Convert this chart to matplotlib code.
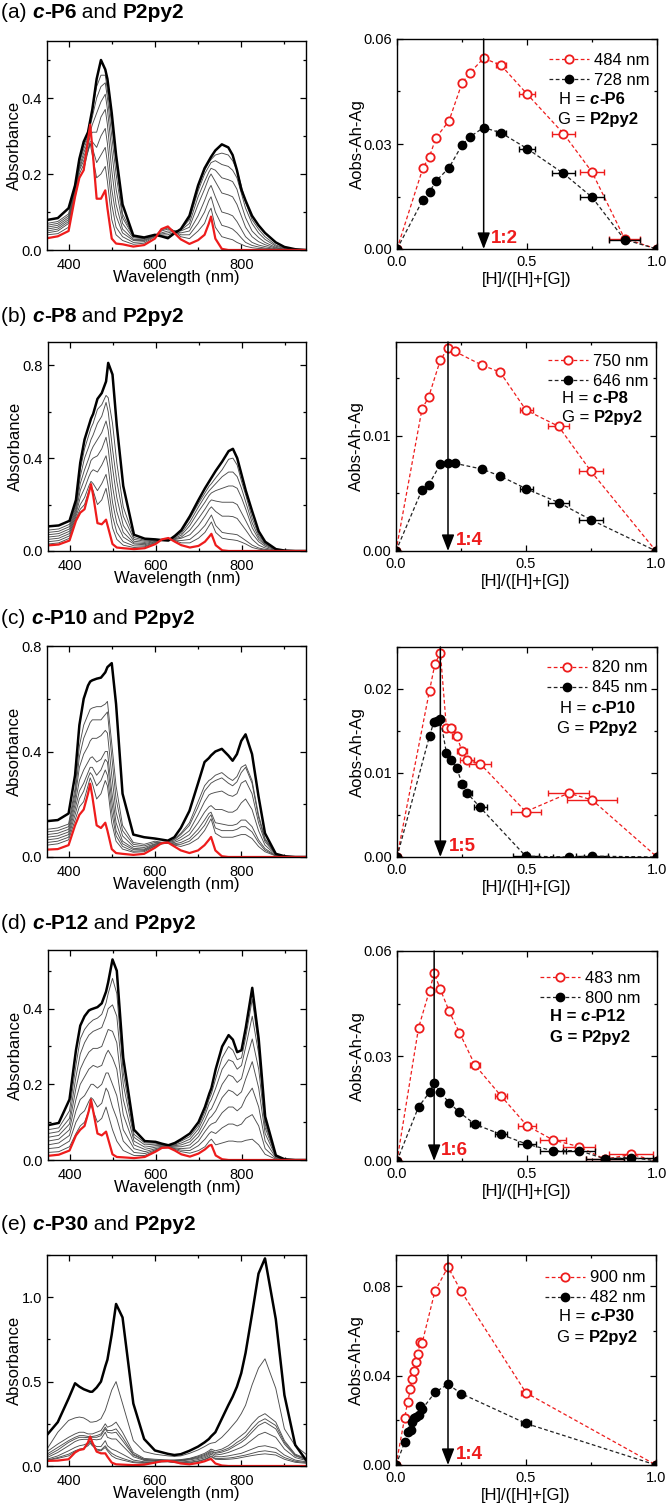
import numpy as np
import matplotlib.pyplot as plt
from matplotlib.ticker import MultipleLocator, FormatStrFormatter
import matplotlib.transforms as mtransforms

plt.rcParams['font.family'] = ['Liberation Sans', 'DejaVu Sans']
plt.rcParams['xtick.direction'] = 'in'
plt.rcParams['ytick.direction'] = 'in'
plt.rcParams['xtick.top'] = True
plt.rcParams['ytick.right'] = True
plt.rcParams['axes.linewidth'] = 1.0

#%% spectra: wavelength grid shared by all panels (nm)
wl = [350, 375, 400, 415, 425, 435, 445, 450, 455, 465,
      475, 485, 490, 500, 510, 525, 550, 575, 600, 615,
      630, 645, 660, 680, 700, 715, 725, 730, 740, 755,
      770, 780, 790, 800, 810, 825, 840, 855, 880, 900,
      925, 950]

# (a) c-P6 and P2py2
a_black = [0.079, 0.084, 0.11, 0.17, 0.24, 0.285, 0.31, 0.34, 0.37, 0.45,
           0.50, 0.475, 0.45, 0.36, 0.25, 0.12, 0.038, 0.033, 0.04, 0.036,
           0.031, 0.044, 0.055, 0.09, 0.17, 0.215, 0.235, 0.245, 0.262, 0.278,
           0.27, 0.25, 0.21, 0.16, 0.13, 0.09, 0.065, 0.045, 0.02, 0.008,
           0.002, 0.0]
a_red = [0.031, 0.036, 0.05, 0.14, 0.19, 0.21, 0.29, 0.33, 0.27, 0.135,
         0.135, 0.157, 0.11, 0.03, 0.017, 0.015, 0.009, 0.013, 0.03, 0.055,
         0.062, 0.045, 0.028, 0.016, 0.026, 0.04, 0.07, 0.088, 0.03, 0.003,
         0, 0, 0, 0, 0, 0, 0, 0, 0, 0,
         0, 0]
a_gray = [
    [0.040, 0.043, 0.06, 0.14, 0.19, 0.21, 0.26, 0.28, 0.25, 0.19,
     0.20, 0.22, 0.18, 0.08, 0.04, 0.025, 0.015, 0.018, 0.035, 0.055,
     0.06, 0.05, 0.035, 0.03, 0.05, 0.07, 0.10, 0.11, 0.06, 0.035,
     0.03, 0.027, 0.02, 0.015, 0.01, 0.006, 0.004, 0.003, 0.001, 0,
     0, 0],
    [0.045, 0.05, 0.07, 0.15, 0.20, 0.225, 0.26, 0.28, 0.27, 0.23,
     0.25, 0.27, 0.23, 0.12, 0.06, 0.035, 0.02, 0.022, 0.037, 0.053,
     0.058, 0.05, 0.04, 0.04, 0.07, 0.10, 0.13, 0.14, 0.10, 0.065,
     0.06, 0.055, 0.045, 0.032, 0.02, 0.012, 0.008, 0.005, 0.002, 0.001,
     0, 0],
    [0.05, 0.055, 0.075, 0.15, 0.21, 0.235, 0.265, 0.285, 0.285, 0.27,
     0.30, 0.32, 0.28, 0.16, 0.09, 0.045, 0.025, 0.025, 0.038, 0.05,
     0.055, 0.05, 0.045, 0.05, 0.09, 0.13, 0.16, 0.17, 0.14, 0.10,
     0.095, 0.09, 0.075, 0.055, 0.035, 0.02, 0.013, 0.009, 0.003, 0.001,
     0, 0],
    [0.055, 0.06, 0.08, 0.155, 0.215, 0.245, 0.275, 0.30, 0.31, 0.31,
     0.35, 0.37, 0.33, 0.21, 0.12, 0.055, 0.028, 0.027, 0.039, 0.045,
     0.05, 0.05, 0.05, 0.06, 0.12, 0.16, 0.19, 0.20, 0.18, 0.15,
     0.145, 0.14, 0.12, 0.09, 0.06, 0.035, 0.022, 0.014, 0.005, 0.002,
     0, 0],
    [0.06, 0.065, 0.085, 0.16, 0.22, 0.255, 0.285, 0.31, 0.33, 0.36,
     0.39, 0.41, 0.37, 0.26, 0.16, 0.07, 0.032, 0.03, 0.04, 0.042,
     0.045, 0.05, 0.052, 0.07, 0.14, 0.18, 0.205, 0.215, 0.21, 0.19,
     0.185, 0.18, 0.16, 0.12, 0.085, 0.05, 0.033, 0.02, 0.007, 0.002,
     0, 0],
    [0.065, 0.07, 0.09, 0.165, 0.23, 0.265, 0.295, 0.325, 0.35, 0.40,
     0.43, 0.44, 0.40, 0.30, 0.20, 0.085, 0.035, 0.031, 0.04, 0.039,
     0.04, 0.047, 0.053, 0.08, 0.155, 0.20, 0.22, 0.23, 0.235, 0.225,
     0.22, 0.21, 0.19, 0.15, 0.11, 0.07, 0.045, 0.028, 0.01, 0.004,
     0.001, 0],
    [0.07, 0.075, 0.095, 0.17, 0.235, 0.275, 0.30, 0.335, 0.365, 0.43,
     0.46, 0.46, 0.42, 0.33, 0.23, 0.095, 0.037, 0.032, 0.04, 0.037,
     0.035, 0.045, 0.054, 0.085, 0.165, 0.21, 0.23, 0.238, 0.25, 0.255,
     0.25, 0.235, 0.21, 0.17, 0.125, 0.08, 0.055, 0.035, 0.013, 0.005,
     0.001, 0],
]

# (b) c-P8 and P2py2
b_black = [0.106, 0.11, 0.13, 0.22, 0.38, 0.48, 0.54, 0.57, 0.59, 0.655,
           0.68, 0.73, 0.81, 0.76, 0.54, 0.28, 0.07, 0.053, 0.05, 0.047,
           0.045, 0.065, 0.09, 0.15, 0.22, 0.27, 0.30, 0.315, 0.345, 0.385,
           0.43, 0.44, 0.40, 0.33, 0.26, 0.17, 0.085, 0.04, 0.008, 0.002,
           0, 0]
b_red = [0.024, 0.028, 0.045, 0.13, 0.165, 0.18, 0.25, 0.288, 0.24, 0.12,
         0.115, 0.135, 0.10, 0.03, 0.015, 0.012, 0.008, 0.012, 0.03, 0.05,
         0.056, 0.04, 0.025, 0.015, 0.022, 0.04, 0.062, 0.074, 0.025, 0.003,
         0, 0, 0, 0, 0, 0, 0, 0, 0, 0,
         0, 0]
b_gray = [
    [0.03, 0.035, 0.055, 0.14, 0.18, 0.20, 0.26, 0.28, 0.26, 0.20,
     0.22, 0.27, 0.22, 0.10, 0.05, 0.025, 0.015, 0.018, 0.035, 0.05,
     0.055, 0.045, 0.035, 0.035, 0.055, 0.08, 0.11, 0.125, 0.08, 0.055,
     0.05, 0.048, 0.045, 0.038, 0.03, 0.015, 0.008, 0.004, 0.001, 0,
     0, 0],
    [0.04, 0.045, 0.065, 0.15, 0.20, 0.23, 0.28, 0.30, 0.29, 0.26,
     0.29, 0.33, 0.28, 0.15, 0.08, 0.04, 0.022, 0.022, 0.037, 0.05,
     0.053, 0.047, 0.045, 0.05, 0.08, 0.11, 0.14, 0.155, 0.11, 0.08,
     0.075, 0.073, 0.07, 0.058, 0.045, 0.025, 0.013, 0.007, 0.002, 0,
     0, 0],
    [0.05, 0.055, 0.075, 0.16, 0.23, 0.27, 0.32, 0.34, 0.35, 0.34,
     0.37, 0.41, 0.36, 0.21, 0.12, 0.06, 0.03, 0.027, 0.04, 0.05,
     0.052, 0.05, 0.055, 0.07, 0.11, 0.15, 0.18, 0.19, 0.17, 0.15,
     0.15, 0.148, 0.14, 0.115, 0.09, 0.05, 0.025, 0.013, 0.003, 0.001,
     0, 0],
    [0.06, 0.065, 0.085, 0.17, 0.26, 0.31, 0.36, 0.39, 0.40, 0.41,
     0.44, 0.49, 0.44, 0.28, 0.17, 0.08, 0.035, 0.032, 0.042, 0.048,
     0.05, 0.053, 0.06, 0.09, 0.14, 0.18, 0.21, 0.22, 0.215, 0.21,
     0.21, 0.21, 0.20, 0.165, 0.13, 0.075, 0.04, 0.02, 0.005, 0.001,
     0, 0],
    [0.07, 0.075, 0.095, 0.18, 0.29, 0.35, 0.40, 0.43, 0.45, 0.48,
     0.51, 0.56, 0.52, 0.36, 0.23, 0.11, 0.042, 0.037, 0.045, 0.046,
     0.048, 0.056, 0.068, 0.11, 0.17, 0.21, 0.24, 0.25, 0.26, 0.27,
     0.28, 0.28, 0.27, 0.23, 0.18, 0.10, 0.05, 0.026, 0.006, 0.002,
     0, 0],
    [0.08, 0.085, 0.105, 0.19, 0.32, 0.40, 0.45, 0.48, 0.50, 0.55,
     0.58, 0.64, 0.60, 0.44, 0.30, 0.15, 0.05, 0.042, 0.047, 0.045,
     0.046, 0.06, 0.076, 0.125, 0.19, 0.235, 0.26, 0.27, 0.29, 0.32,
     0.34, 0.34, 0.32, 0.27, 0.21, 0.12, 0.06, 0.03, 0.007, 0.002,
     0, 0],
    [0.09, 0.095, 0.115, 0.20, 0.35, 0.44, 0.50, 0.53, 0.55, 0.61,
     0.63, 0.67, 0.66, 0.55, 0.38, 0.19, 0.058, 0.046, 0.048, 0.046,
     0.045, 0.062, 0.083, 0.14, 0.205, 0.25, 0.28, 0.29, 0.315, 0.35,
     0.395, 0.40, 0.37, 0.30, 0.24, 0.14, 0.07, 0.034, 0.008, 0.002,
     0, 0],
]

# (c) c-P10 and P2py2
c_black = [0.136, 0.14, 0.165, 0.31, 0.50, 0.60, 0.65, 0.665, 0.67, 0.676,
           0.68, 0.70, 0.72, 0.735, 0.58, 0.24, 0.085, 0.075, 0.07, 0.066,
           0.062, 0.075, 0.11, 0.175, 0.28, 0.36, 0.375, 0.385, 0.40, 0.41,
           0.385, 0.365, 0.39, 0.44, 0.465, 0.39, 0.23, 0.09, 0.012, 0.003,
           0, 0]
c_red = [0.028, 0.03, 0.045, 0.12, 0.16, 0.18, 0.24, 0.278, 0.23, 0.12,
         0.11, 0.13, 0.10, 0.03, 0.015, 0.012, 0.008, 0.012, 0.035, 0.052,
         0.055, 0.04, 0.025, 0.015, 0.025, 0.045, 0.065, 0.076, 0.025, 0.003,
         0, 0, 0, 0, 0, 0, 0, 0, 0, 0,
         0, 0]
c_gray = [
    [0.045, 0.05, 0.065, 0.14, 0.19, 0.21, 0.27, 0.30, 0.28, 0.22,
     0.24, 0.29, 0.27, 0.13, 0.06, 0.03, 0.018, 0.02, 0.04, 0.05,
     0.055, 0.045, 0.04, 0.05, 0.07, 0.10, 0.13, 0.145, 0.09, 0.075,
     0.075, 0.075, 0.08, 0.085, 0.085, 0.07, 0.04, 0.02, 0.004, 0.001,
     0, 0],
    [0.055, 0.06, 0.075, 0.16, 0.22, 0.25, 0.30, 0.32, 0.31, 0.27,
     0.29, 0.33, 0.31, 0.17, 0.08, 0.04, 0.022, 0.024, 0.042, 0.05,
     0.053, 0.048, 0.048, 0.06, 0.09, 0.12, 0.15, 0.16, 0.11, 0.10,
     0.10, 0.10, 0.105, 0.115, 0.115, 0.095, 0.055, 0.026, 0.005, 0.001,
     0, 0],
    [0.065, 0.07, 0.085, 0.18, 0.25, 0.28, 0.32, 0.34, 0.34, 0.31,
     0.33, 0.37, 0.36, 0.21, 0.10, 0.05, 0.028, 0.027, 0.045, 0.05,
     0.052, 0.05, 0.055, 0.07, 0.105, 0.14, 0.165, 0.17, 0.13, 0.125,
     0.12, 0.12, 0.125, 0.14, 0.14, 0.115, 0.065, 0.032, 0.006, 0.001,
     0, 0],
    [0.075, 0.08, 0.095, 0.20, 0.29, 0.33, 0.36, 0.375, 0.38, 0.36,
     0.37, 0.40, 0.40, 0.25, 0.13, 0.06, 0.033, 0.03, 0.048, 0.052,
     0.053, 0.055, 0.065, 0.085, 0.13, 0.17, 0.19, 0.195, 0.18, 0.18,
     0.17, 0.17, 0.18, 0.205, 0.22, 0.18, 0.10, 0.045, 0.008, 0.002,
     0, 0],
    [0.085, 0.09, 0.105, 0.22, 0.34, 0.39, 0.42, 0.44, 0.45, 0.45,
     0.46, 0.48, 0.47, 0.31, 0.17, 0.08, 0.04, 0.036, 0.05, 0.053,
     0.055, 0.06, 0.075, 0.10, 0.16, 0.21, 0.235, 0.24, 0.245, 0.25,
     0.235, 0.23, 0.24, 0.28, 0.29, 0.24, 0.13, 0.058, 0.01, 0.002,
     0, 0],
    [0.095, 0.10, 0.115, 0.24, 0.38, 0.45, 0.49, 0.51, 0.52, 0.52,
     0.52, 0.54, 0.55, 0.38, 0.22, 0.10, 0.048, 0.042, 0.055, 0.055,
     0.056, 0.065, 0.085, 0.12, 0.19, 0.25, 0.27, 0.28, 0.29, 0.30,
     0.28, 0.27, 0.285, 0.32, 0.34, 0.28, 0.15, 0.065, 0.012, 0.002,
     0, 0],
    [0.105, 0.11, 0.125, 0.26, 0.42, 0.50, 0.54, 0.56, 0.565, 0.57,
     0.57, 0.58, 0.59, 0.43, 0.27, 0.12, 0.055, 0.048, 0.06, 0.056,
     0.057, 0.068, 0.09, 0.13, 0.21, 0.27, 0.29, 0.295, 0.31, 0.32,
     0.30, 0.29, 0.305, 0.34, 0.35, 0.29, 0.16, 0.07, 0.013, 0.002,
     0, 0],
]

# (d) c-P12 and P2py2
d_black = [0.092, 0.098, 0.16, 0.29, 0.355, 0.38, 0.395, 0.398, 0.40, 0.404,
           0.414, 0.445, 0.47, 0.53, 0.50, 0.27, 0.08, 0.05, 0.048, 0.043,
           0.039, 0.045, 0.055, 0.07, 0.10, 0.14, 0.175, 0.19, 0.24, 0.30,
           0.33, 0.318, 0.285, 0.29, 0.35, 0.455, 0.32, 0.115, 0.012, 0.002,
           0, 0]
d_red = [0.011, 0.014, 0.025, 0.065, 0.08, 0.09, 0.13, 0.16, 0.13, 0.07,
         0.065, 0.075, 0.055, 0.015, 0.008, 0.007, 0.005, 0.008, 0.022, 0.032,
         0.033, 0.025, 0.015, 0.009, 0.017, 0.028, 0.038, 0.04, 0.012, 0.002,
         0, 0, 0, 0, 0, 0, 0, 0, 0, 0,
         0, 0]
d_gray = [
    [0.02, 0.022, 0.035, 0.07, 0.09, 0.10, 0.13, 0.145, 0.13, 0.10,
     0.11, 0.14, 0.12, 0.08, 0.05, 0.025, 0.012, 0.012, 0.025, 0.032,
     0.032, 0.028, 0.022, 0.018, 0.025, 0.035, 0.05, 0.055, 0.04, 0.045,
     0.05, 0.05, 0.048, 0.048, 0.052, 0.055, 0.04, 0.015, 0.002, 0,
     0, 0],
    [0.03, 0.033, 0.05, 0.10, 0.12, 0.13, 0.155, 0.165, 0.16, 0.14,
     0.15, 0.19, 0.18, 0.14, 0.11, 0.05, 0.02, 0.017, 0.027, 0.033,
     0.033, 0.03, 0.026, 0.025, 0.038, 0.055, 0.07, 0.075, 0.07, 0.085,
     0.095, 0.095, 0.09, 0.095, 0.11, 0.12, 0.09, 0.03, 0.004, 0,
     0, 0],
    [0.04, 0.045, 0.065, 0.13, 0.16, 0.17, 0.19, 0.20, 0.20, 0.19,
     0.20, 0.23, 0.23, 0.20, 0.17, 0.08, 0.03, 0.022, 0.03, 0.034,
     0.034, 0.032, 0.03, 0.032, 0.05, 0.075, 0.09, 0.095, 0.10, 0.125,
     0.14, 0.14, 0.13, 0.14, 0.165, 0.19, 0.14, 0.05, 0.006, 0,
     0, 0],
    [0.05, 0.055, 0.08, 0.16, 0.20, 0.22, 0.24, 0.245, 0.25, 0.245,
     0.25, 0.28, 0.29, 0.27, 0.24, 0.12, 0.04, 0.028, 0.034, 0.036,
     0.036, 0.035, 0.035, 0.04, 0.062, 0.09, 0.11, 0.115, 0.13, 0.165,
     0.185, 0.18, 0.17, 0.18, 0.215, 0.26, 0.19, 0.07, 0.008, 0,
     0, 0],
    [0.06, 0.065, 0.095, 0.19, 0.24, 0.265, 0.285, 0.29, 0.295, 0.295,
     0.30, 0.33, 0.345, 0.34, 0.31, 0.16, 0.05, 0.034, 0.038, 0.038,
     0.037, 0.038, 0.04, 0.048, 0.072, 0.105, 0.13, 0.135, 0.16, 0.20,
     0.225, 0.22, 0.205, 0.215, 0.26, 0.32, 0.24, 0.085, 0.01, 0.001,
     0, 0],
    [0.07, 0.075, 0.11, 0.22, 0.28, 0.31, 0.33, 0.335, 0.34, 0.345,
     0.35, 0.38, 0.40, 0.41, 0.38, 0.20, 0.06, 0.04, 0.042, 0.04,
     0.038, 0.04, 0.045, 0.055, 0.082, 0.118, 0.15, 0.16, 0.19, 0.24,
     0.265, 0.26, 0.24, 0.25, 0.30, 0.38, 0.28, 0.095, 0.011, 0.001,
     0, 0],
    [0.08, 0.085, 0.13, 0.25, 0.32, 0.345, 0.36, 0.365, 0.37, 0.375,
     0.385, 0.415, 0.44, 0.48, 0.44, 0.23, 0.068, 0.045, 0.045, 0.041,
     0.038, 0.042, 0.05, 0.062, 0.09, 0.128, 0.162, 0.175, 0.215, 0.27,
     0.30, 0.29, 0.265, 0.27, 0.325, 0.425, 0.30, 0.105, 0.012, 0.001,
     0, 0],
]

# (e) c-P30 and P2py2
e_black = [0.184, 0.26, 0.40, 0.49, 0.47, 0.455, 0.445, 0.44, 0.44, 0.465,
           0.50, 0.59, 0.63, 0.78, 0.96, 0.88, 0.37, 0.16, 0.092, 0.082,
           0.072, 0.065, 0.07, 0.09, 0.115, 0.14, 0.16, 0.175, 0.20, 0.28,
           0.36, 0.41, 0.47, 0.55, 0.67, 0.90, 1.14, 1.23, 0.87, 0.42,
           0.125, 0.035]
e_red = [0.03, 0.032, 0.04, 0.08, 0.095, 0.10, 0.14, 0.175, 0.14, 0.085,
         0.075, 0.075, 0.055, 0.02, 0.01, 0.008, 0.005, 0.008, 0.02, 0.028,
         0.03, 0.025, 0.015, 0.01, 0.018, 0.028, 0.038, 0.042, 0.015, 0.003,
         0, 0, 0, 0, 0, 0, 0, 0, 0, 0,
         0, 0]
e_gray = [
    [0.10, 0.20, 0.27, 0.285, 0.29, 0.285, 0.27, 0.26, 0.26, 0.265,
     0.28, 0.33, 0.37, 0.45, 0.50, 0.37, 0.15, 0.085, 0.07, 0.065,
     0.06, 0.057, 0.06, 0.075, 0.095, 0.115, 0.13, 0.135, 0.14, 0.17,
     0.21, 0.24, 0.27, 0.31, 0.36, 0.48, 0.58, 0.635, 0.46, 0.22,
     0.12, 0.07],
    [0.085, 0.13, 0.17, 0.19, 0.20, 0.20, 0.19, 0.19, 0.19, 0.20,
     0.21, 0.25, 0.23, 0.24, 0.26, 0.20, 0.08, 0.045, 0.04, 0.038,
     0.036, 0.036, 0.038, 0.045, 0.06, 0.075, 0.09, 0.10, 0.09, 0.10,
     0.12, 0.14, 0.16, 0.18, 0.20, 0.25, 0.29, 0.31, 0.26, 0.15,
     0.07, 0.045],
    [0.07, 0.11, 0.15, 0.17, 0.18, 0.18, 0.175, 0.175, 0.175, 0.18,
     0.19, 0.23, 0.21, 0.21, 0.22, 0.17, 0.07, 0.04, 0.035, 0.034,
     0.033, 0.033, 0.035, 0.042, 0.055, 0.068, 0.082, 0.09, 0.08, 0.09,
     0.105, 0.12, 0.14, 0.155, 0.175, 0.22, 0.26, 0.28, 0.24, 0.14,
     0.065, 0.04],
    [0.06, 0.095, 0.14, 0.16, 0.17, 0.17, 0.168, 0.17, 0.17, 0.17,
     0.18, 0.22, 0.20, 0.195, 0.20, 0.15, 0.065, 0.037, 0.033, 0.032,
     0.031, 0.031, 0.033, 0.04, 0.05, 0.062, 0.075, 0.085, 0.075, 0.082,
     0.095, 0.11, 0.125, 0.14, 0.16, 0.20, 0.24, 0.26, 0.22, 0.13,
     0.06, 0.038],
    [0.05, 0.08, 0.12, 0.145, 0.155, 0.158, 0.158, 0.16, 0.158, 0.155,
     0.16, 0.20, 0.17, 0.16, 0.16, 0.12, 0.055, 0.033, 0.03, 0.03,
     0.029, 0.029, 0.03, 0.036, 0.045, 0.055, 0.068, 0.078, 0.065, 0.07,
     0.08, 0.09, 0.10, 0.11, 0.125, 0.155, 0.185, 0.20, 0.17, 0.10,
     0.05, 0.033],
    [0.04, 0.06, 0.09, 0.11, 0.12, 0.125, 0.135, 0.145, 0.13, 0.115,
     0.115, 0.15, 0.12, 0.10, 0.09, 0.07, 0.035, 0.025, 0.025, 0.027,
     0.027, 0.025, 0.024, 0.028, 0.038, 0.048, 0.06, 0.07, 0.055, 0.055,
     0.06, 0.065, 0.07, 0.075, 0.085, 0.10, 0.115, 0.12, 0.105, 0.065,
     0.035, 0.025],
    [0.035, 0.05, 0.07, 0.09, 0.10, 0.105, 0.12, 0.135, 0.12, 0.10,
     0.095, 0.12, 0.10, 0.075, 0.06, 0.045, 0.025, 0.02, 0.022, 0.025,
     0.025, 0.022, 0.02, 0.022, 0.03, 0.04, 0.052, 0.06, 0.045, 0.045,
     0.047, 0.05, 0.055, 0.06, 0.065, 0.075, 0.085, 0.09, 0.08, 0.05,
     0.028, 0.02],
    [0.033, 0.045, 0.06, 0.085, 0.095, 0.10, 0.13, 0.15, 0.125, 0.095,
     0.09, 0.11, 0.09, 0.06, 0.045, 0.035, 0.02, 0.016, 0.02, 0.025,
     0.026, 0.02, 0.017, 0.018, 0.027, 0.037, 0.048, 0.055, 0.04, 0.038,
     0.04, 0.042, 0.045, 0.05, 0.055, 0.062, 0.068, 0.072, 0.065, 0.04,
     0.022, 0.016],
]

#%% Job plots: x = [H]/([H]+[G])
ja_x = [0, 0.1, 0.125, 0.15, 0.2, 0.25, 0.28, 0.333, 0.4, 0.5, 0.64, 0.75, 0.875, 1.0]
ja_red = [0, 0.0232, 0.0264, 0.0318, 0.0366, 0.0474, 0.0503, 0.0545, 0.0525, 0.0443, 0.033, 0.022, 0.003, 0]
ja_black = [0, 0.0141, 0.0163, 0.0194, 0.0232, 0.0297, 0.032, 0.0347, 0.0332, 0.0287, 0.0216, 0.0148, 0.0027, 0]
ja_err = [0, 0, 0, 0, 0, 0, 0.005, 0.01, 0.02, 0.029, 0.045, 0.046, 0.058, 0]

jb_x = [0, 0.1, 0.125, 0.17, 0.2, 0.225, 0.33, 0.4, 0.5, 0.625, 0.75, 1.0]
jb_red = [0, 0.0123, 0.0133, 0.0165, 0.0176, 0.0173, 0.0161, 0.0155, 0.0122, 0.0108, 0.0069, 0]
jb_black = [0, 0.0053, 0.0057, 0.0075, 0.0076, 0.0076, 0.0071, 0.0065, 0.0054, 0.0042, 0.0027, 0]
jb_err = [0, 0, 0, 0, 0, 0, 0.005, 0.013, 0.025, 0.039, 0.047, 0]

jc_xr = [0, 0.125, 0.146, 0.167, 0.19, 0.208, 0.23, 0.25, 0.27, 0.32, 0.495, 0.66, 0.75, 1.0]
jc_red = [0, 0.0198, 0.0230, 0.0243, 0.0154, 0.0154, 0.0144, 0.0126, 0.0115, 0.0111, 0.0054, 0.0076, 0.0068, 0]
jc_err_r = [0, 0, 0, 0.01, 0.01, 0.015, 0.018, 0.02, 0.026, 0.042, 0.058, 0.08, 0.097, 0]
jc_xb = [0, 0.125, 0.142, 0.155, 0.167, 0.19, 0.208, 0.23, 0.25, 0.27, 0.32, 0.495, 0.66, 0.75, 1.0]
jc_black = [0, 0.0144, 0.0161, 0.0162, 0.0164, 0.0124, 0.0115, 0.0106, 0.0087, 0.0076, 0.0059, 0.0001, 0, 0.0001, 0]
jc_err_b = [0, 0, 0, 0, 0.008, 0.008, 0.01, 0.012, 0.014, 0.018, 0.025, 0.05, 0.06, 0.06, 0]

jd_x = [0, 0.083, 0.125, 0.143, 0.167, 0.2, 0.24, 0.3, 0.4, 0.5, 0.6, 0.7, 0.8, 0.9, 1.0]
jd_red = [0, 0.0381, 0.0487, 0.0536, 0.049, 0.0429, 0.0367, 0.0274, 0.0186, 0.0101, 0.006, 0.0041, 0.0005, 0.0019, 0]
jd_black = [0, 0.0155, 0.0196, 0.0224, 0.0196, 0.0167, 0.0139, 0.0105, 0.0076, 0.0048, 0.0029, 0.003, 0.0006, 0.001, 0]
jd_err = [0, 0, 0, 0, 0, 0.005, 0.008, 0.021, 0.024, 0.035, 0.049, 0.063, 0.072, 0.085, 0]

je_xr = [0, 0.033, 0.045, 0.055, 0.062, 0.07, 0.077, 0.084, 0.093, 0.1, 0.15, 0.2, 0.25, 0.5, 1.0]
je_red = [0, 0.0209, 0.0283, 0.0338, 0.0384, 0.0422, 0.0462, 0.0499, 0.0551, 0.0544, 0.0779, 0.0886, 0.0779, 0.0323, 0]
je_xb = [0, 0.033, 0.048, 0.056, 0.062, 0.07, 0.078, 0.087, 0.093, 0.1, 0.15, 0.2, 0.25, 0.5, 1.0]
je_black = [0, 0.0101, 0.0149, 0.0156, 0.0194, 0.0209, 0.0216, 0.0226, 0.0264, 0.0249, 0.0325, 0.0362, 0.032, 0.0186, 0]
je_err = [0, 0, 0, 0, 0, 0, 0, 0, 0, 0, 0, 0, 0.005, 0.02, 0]

RED = '#ee1c1c'
W, H = 666, 1504
fig = plt.figure(figsize=(W / 100, H / 100), dpi=100)


def px_axes(x0, y0, x1, y1):
    return fig.add_axes([x0 / W, 1 - y1 / H, (x1 - x0) / W, (y1 - y0) / H])


def rich(ax, x, y, parts, size, transform):
    '''Draws text pieces with different weight/style one after the other'''
    s, w, st = parts[0]
    t = ax.text(x, y, s, transform=transform, fontsize=size, fontweight=w,
                fontstyle=st, va='center', ha='left')
    for s, w, st in parts[1:]:
        t = ax.annotate(s, xy=(1, 0), xycoords=t, va='bottom', ha='left',
                        fontsize=size, fontweight=w, fontstyle=st,
                        annotation_clip=False)
    return t


def style_axes(ax, xlim, ylim, xmaj, xmin, ymaj, ymin, xfmt, yfmt, xpad):
    ax.set_xlim(*xlim)
    ax.set_ylim(*ylim)
    ax.xaxis.set_major_locator(MultipleLocator(xmaj))
    ax.xaxis.set_minor_locator(MultipleLocator(xmin))
    ax.yaxis.set_major_locator(MultipleLocator(ymaj))
    ax.yaxis.set_minor_locator(MultipleLocator(ymin))
    ax.xaxis.set_major_formatter(FormatStrFormatter(xfmt))
    ax.yaxis.set_major_formatter(FormatStrFormatter(yfmt))
    ax.tick_params(which='both', direction='in', top=True, right=True,
                   labelsize=10.5, width=0.9)
    ax.tick_params(which='major', length=4)
    ax.tick_params(which='minor', length=2.5)
    ax.tick_params(axis='x', pad=xpad)


def plot_spectra(ax, black, red, grays, ymax, ymaj):
    for g in grays:
        ax.plot(wl, g, color='0.3', lw=0.65)
    ax.plot(wl, black, color='k', lw=1.8)
    ax.plot(wl, red, color=RED, lw=1.6)
    style_axes(ax, (350, 950), (0, ymax), 200, 100, ymaj, ymaj / 2, '%d', '%.1f', 6)
    ax.set_xlabel('Wavelength (nm)', fontsize=12, labelpad=-1.5)
    ax.set_ylabel('Absorbance', fontsize=12, labelpad=0)


def plot_job(ax, xr, yr, er, xb, yb, eb, ymax, ymaj, yfmt):
    dash = (0, (3, 2))
    xr, yr, er = np.array(xr), np.array(yr), np.array(er)
    xb, yb, eb = np.array(xb), np.array(yb), np.array(eb)
    m = er > 0
    ax.errorbar(xr[m], yr[m], xerr=er[m], fmt='none', ecolor=RED,
                elinewidth=1.0, capsize=2.2, capthick=1.0)
    lr, = ax.plot(xr, yr, ls=dash, lw=0.9, color=RED, marker='o', ms=6,
                  mfc='white', mec=RED, mew=1.3)
    m = eb > 0
    ax.errorbar(xb[m], yb[m], xerr=eb[m], fmt='none', ecolor='k',
                elinewidth=1.0, capsize=2.2, capthick=1.0)
    lb, = ax.plot(xb, yb, ls=dash, lw=0.9, color='#222222', marker='o', ms=6,
                  mfc='k', mec='k')
    style_axes(ax, (0, 1), (0, ymax), 0.5, 0.25, ymaj, ymaj / 2, '%.1f', yfmt, 4.5)
    ax.set_xlabel('[H]/([H]+[G])', fontsize=12, labelpad=2)
    ax.set_ylabel('Aobs-Ah-Ag', fontsize=12, labelpad=-1)
    return lr, lb


def annotate_job(ax, lines, labels, anchor, xarrow, ratio, rx, h_parts, g_parts, hpos, gpos):
    ymax = ax.get_ylim()[1]
    ax.annotate('', xy=(xarrow, 0), xytext=(xarrow, ymax),
                arrowprops=dict(arrowstyle='-|>,head_length=0.9,head_width=0.35',
                                color='k', lw=1.1, shrinkA=0, shrinkB=0,
                                mutation_scale=11))
    trans = mtransforms.blended_transform_factory(ax.transData, ax.transAxes)
    ax.text(rx, 0.05, ratio, transform=trans, color=RED, fontsize=13.5,
            fontweight='bold', va='center', ha='left')
    ax.legend(lines, labels, loc='upper right', bbox_to_anchor=anchor,
              borderaxespad=0, frameon=False, fontsize=12, numpoints=1,
              handlelength=2.4, handletextpad=0.3, labelspacing=0.3,
              borderpad=0.3)
    rich(ax, hpos[0], hpos[1], h_parts, 12, ax.transAxes)
    rich(ax, gpos[0], gpos[1], g_parts, 12, ax.transAxes)


def title(ax, y, tag, host):
    parts = [('(%s) ' % tag, 'normal', 'normal'), ('c', 'bold', 'italic'),
             ('-' + host, 'bold', 'normal'), (' and ', 'normal', 'normal'),
             ('P2py2', 'bold', 'normal')]
    rich(ax, 1 / W, 1 - y / H, parts, 15, fig.transFigure)


N, B, I = 'normal', 'bold', 'italic'

# ---- row (a)
ax = px_axes(47, 41, 306, 250)
plot_spectra(ax, a_black, a_red, a_gray, 0.55, 0.2)
title(ax, 13, 'a', 'P6')
ax = px_axes(397, 39, 657, 249)
lines = plot_job(ax, ja_x, ja_red, ja_err, ja_x, ja_black, ja_err, 0.06, 0.03, '%.2f')
annotate_job(ax, lines, ['484 nm', '728 nm'], (0.99, 0.957), 1 / 3, '1:2', 0.36,
             [('H = ', N, N), ('c', B, I), ('-P6', B, N)],
             [('G = ', N, N), ('P2py2', B, N)], (0.623, 0.714), (0.619, 0.619))

# ---- row (b)
ax = px_axes(48, 342, 306, 551)
plot_spectra(ax, b_black, b_red, b_gray, 0.9, 0.4)
title(ax, 316, 'b', 'P8')
ax = px_axes(396, 342, 656, 551)
lines = plot_job(ax, jb_x, jb_red, jb_err, jb_x, jb_black, jb_err, 0.0181, 0.01, '%.2f')
annotate_job(ax, lines, ['750 nm', '646 nm'], (0.99, 0.965), 0.2, '1:4', 0.232,
             [('H = ', N, N), ('c', B, I), ('-P8', B, N)],
             [('G = ', N, N), ('P2py2', B, N)], (0.638, 0.732), (0.638, 0.641))

# ---- row (c)
ax = px_axes(47, 646, 306, 857)
plot_spectra(ax, c_black, c_red, c_gray, 0.8, 0.4)
title(ax, 619, 'c', 'P10')
ax = px_axes(397, 647, 657, 857)
lines = plot_job(ax, jc_xr, jc_red, jc_err_r, jc_xb, jc_black, jc_err_b, 0.025, 0.01, '%.2f')
annotate_job(ax, lines, ['820 nm', '845 nm'], (0.985, 0.96), 1 / 6, '1:5', 0.198,
             [('H = ', N, N), ('c', B, I), ('-P10', B, N)],
             [('G = ', N, N), ('P2py2', B, N)], (0.627, 0.705), (0.615, 0.61))

# ---- row (d)
ax = px_axes(48, 950, 306, 1160)
plot_spectra(ax, d_black, d_red, d_gray, 0.555, 0.2)
title(ax, 923, 'd', 'P12')
ax = px_axes(397, 951, 657, 1161)
lines = plot_job(ax, jd_x, jd_red, jd_err, jd_x, jd_black, jd_err, 0.06, 0.03, '%.2f')
annotate_job(ax, lines, ['483 nm', '800 nm'], (0.955, 0.93), 1 / 7, '1:6', 0.167,
             [('H = ', B, N), ('c', B, I), ('-P12', B, N)],
             [('G = ', B, N), ('P2py2', B, N)], (0.588, 0.686), (0.588, 0.586))

# ---- row (e)
ax = px_axes(47, 1255, 306, 1466)
plot_spectra(ax, e_black, e_red, e_gray, 1.25, 0.5)
title(ax, 1224, 'e', 'P30')
ax = px_axes(396, 1255, 656, 1465)
lines = plot_job(ax, je_xr, je_red, je_err, je_xb, je_black, je_err, 0.094, 0.04, '%.2f')
annotate_job(ax, lines, ['900 nm', '482 nm'], (0.98, 0.95), 0.2, '1:4', 0.23,
             [('H = ', N, N), ('c', B, I), ('-P30', B, N)],
             [('G = ', N, N), ('P2py2', B, N)], (0.627, 0.705), (0.619, 0.605))

fig.savefig('out.png', dpi=100)
